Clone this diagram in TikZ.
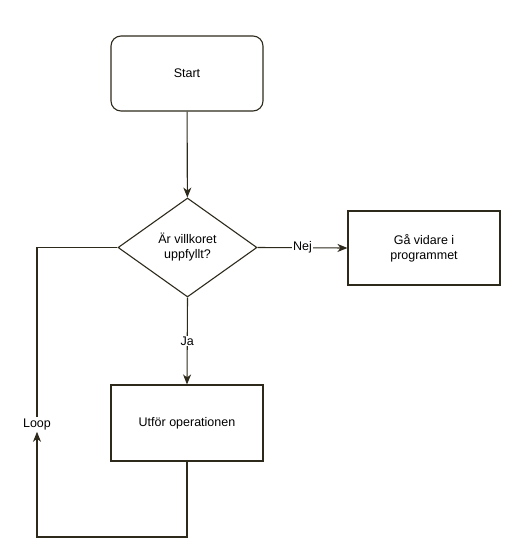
\documentclass[tikz,border=0pt]{standalone}
\usepackage{fontspec}
\setmainfont{Liberation Sans}
\usetikzlibrary{shapes.geometric,arrows.meta}
\definecolor{ln}{RGB}{45,42,28}
\begin{document}
\begin{tikzpicture}[x=1pt,y=-1pt,
  font=\fontsize{12.5}{15}\selectfont,
  box/.style={draw=ln,line width=1.1pt,minimum width=152pt,inner sep=0pt,align=center},
  dia/.style={draw=ln,line width=1.1pt,shape=diamond,minimum width=139pt,minimum height=99pt,inner sep=0pt,aspect=1.4,align=center},
  conn/.style={draw=ln,line width=1.1pt},
  arr/.style={conn,-{Stealth[length=10pt,width=8pt,inset=3pt]}},
  lbl/.style={fill=white,inner sep=1pt}]
\useasboundingbox (0,0) rectangle (530,550);
\node[box,rounded corners=10pt,minimum height=75pt] (s) at (187,73.5) {Start};
\node[dia] (d) at (187.5,247.5) {Är villkoret\\uppfyllt?};
\node[box,minimum height=74pt] (g) at (424,248) {Gå vidare i\\programmet};
\node[box,minimum height=76pt] (u) at (187,423) {Utför operationen};
\node[inner sep=1pt] (loop) at (37,424) {Loop};
\coordinate (bl) at (37,537);
\draw[arr] (s) -- (d);
\draw[arr] (d.east) -- node[lbl]{Nej} (g.west);
\draw[arr] (d.south) -- node[lbl,pos=0.5]{Ja} (u.north);
\draw[arr] (u.south) |- (bl) -- ([yshift=-1pt]loop.south);
\draw[conn] (loop.north) |- (d.west);
\end{tikzpicture}
\end{document}
